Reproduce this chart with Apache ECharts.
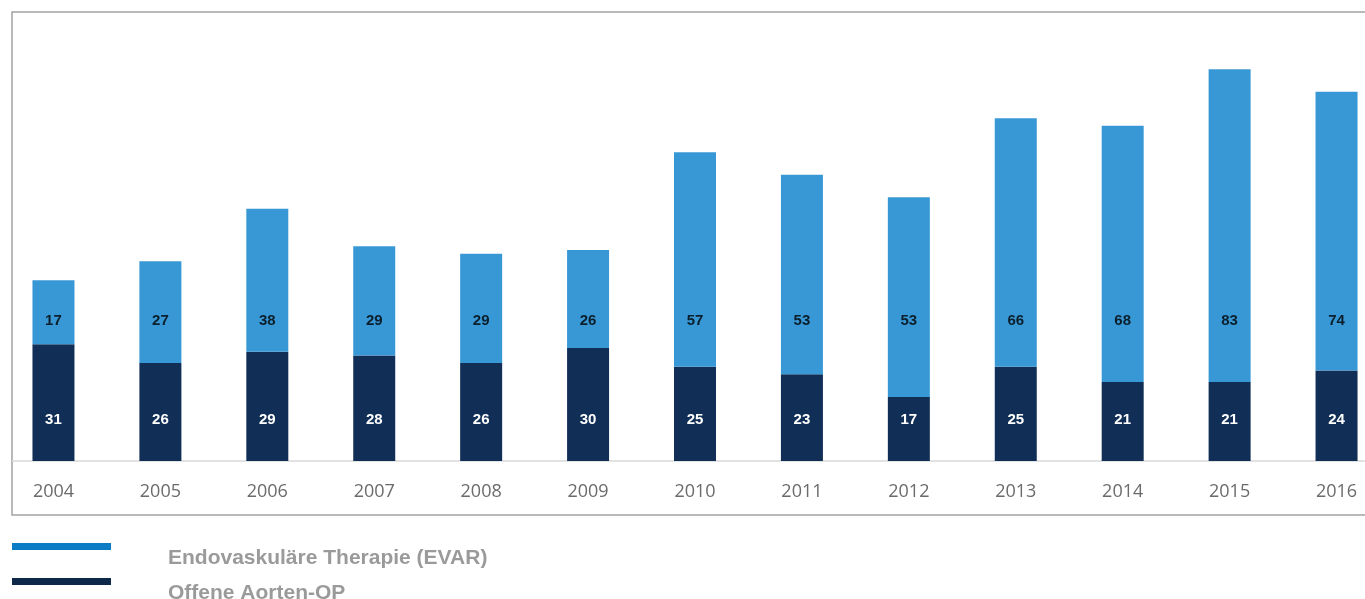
<!DOCTYPE html>
<html>
<head>
<meta charset="utf-8">
<script src="https://cdn.jsdelivr.net/npm/echarts@6/dist/echarts.min.js"></script>
<style>
  html, body { margin: 0; padding: 0; background: #fff; }
  #chart { width: 1365px; height: 599px; }
</style>
</head>
<body>
<div id="chart"></div>
<script>
// Jahre (Kategorien)
const years = ['2004', '2005', '2006', '2007', '2008', '2009', '2010', '2011', '2012', '2013', '2014', '2015', '2016'];
// Endovaskuläre Therapie (EVAR)
const evar = [17, 27, 38, 29, 29, 26, 57, 53, 53, 66, 68, 83, 74];
// Offene Aorten-OP
const offen = [31, 26, 29, 28, 26, 30, 25, 23, 17, 25, 21, 21, 24];

const SERIES_EVAR = 'Endovaskuläre Therapie (EVAR)';
const SERIES_OFFEN = 'Offene Aorten-OP';

// EVAR values are printed on one common row across all bars
const EVAR_LABEL_ROW = 37.3;

// Legend entry: colour bar on top, series name set slightly lower and further right
function legendBlock(name, color, top) {
  return {
    data: [{ name: name, itemStyle: { color: color } }],
    orient: 'vertical',
    left: 12,
    top: top,
    padding: 0,
    icon: 'rect',
    itemWidth: 99,
    itemHeight: 7,
    selectedMode: false,
    formatter: n => '{s|}\n{n|' + n + '}',
    textStyle: {
      padding: [0, 0, 0, 52],
      rich: {
        s: { lineHeight: 24, fontSize: 1 },
        n: {
          color: '#9a9a9a',
          fontFamily: 'Liberation Sans',
          fontWeight: 'bold',
          fontSize: 21,
          lineHeight: 24
        }
      }
    }
  };
}

const chart = echarts.init(document.getElementById('chart'));

chart.setOption({
  animation: false,
  backgroundColor: '#ffffff',
  grid: {
    left: 0,
    width: 1390,
    top: 9,
    bottom: 138,
    containLabel: false,
    outerBoundsMode: 'none'
  },
  xAxis: {
    type: 'category',
    data: years,
    axisLine: { show: false },
    axisTick: { show: false },
    axisLabel: {
      color: '#6b6b6b',
      fontFamily: 'Open Sans',
      fontSize: 18,
      margin: 22
    }
  },
  yAxis: {
    type: 'value',
    min: 0,
    max: 120,
    show: false
  },
  legend: [
    legendBlock(SERIES_EVAR, '#0a7bc4', 534),
    legendBlock(SERIES_OFFEN, '#0d2848', 569)
  ],
  graphic: [
    {
      type: 'rect',
      shape: { x: 12, y: 12, width: 1400, height: 503 },
      style: { fill: 'none', stroke: '#a3a3a3', lineWidth: 1.5 },
      silent: true,
      z: 0
    },
    {
      type: 'line',
      shape: { x1: 12, y1: 461, x2: 1365, y2: 461 },
      style: { stroke: '#d9d9d9', lineWidth: 1.5 },
      silent: true,
      z: 1
    }
  ],
  series: [
    {
      name: SERIES_OFFEN,
      type: 'bar',
      stack: 'gesamt',
      barWidth: 42,
      data: offen,
      itemStyle: { color: '#112f56' },
      label: {
        show: true,
        position: 'insideBottom',
        distance: 34,
        color: '#ffffff',
        fontFamily: 'Liberation Sans',
        fontWeight: 'bold',
        fontSize: 15
      }
    },
    {
      name: SERIES_EVAR,
      type: 'bar',
      stack: 'gesamt',
      barWidth: 42,
      data: evar,
      itemStyle: { color: '#3898d6' },
      label: { show: false }
    },
    {
      name: 'evar-werte',
      type: 'scatter',
      symbolSize: 0,
      silent: true,
      z: 5,
      data: years.map((y, i) => [y, EVAR_LABEL_ROW, evar[i]]),
      label: {
        show: true,
        position: 'inside',
        formatter: p => p.value[2],
        color: '#000000',
        fontFamily: 'Liberation Sans',
        fontWeight: 'bold',
        fontSize: 15
      }
    }
  ]
});
</script>
</body>
</html>
